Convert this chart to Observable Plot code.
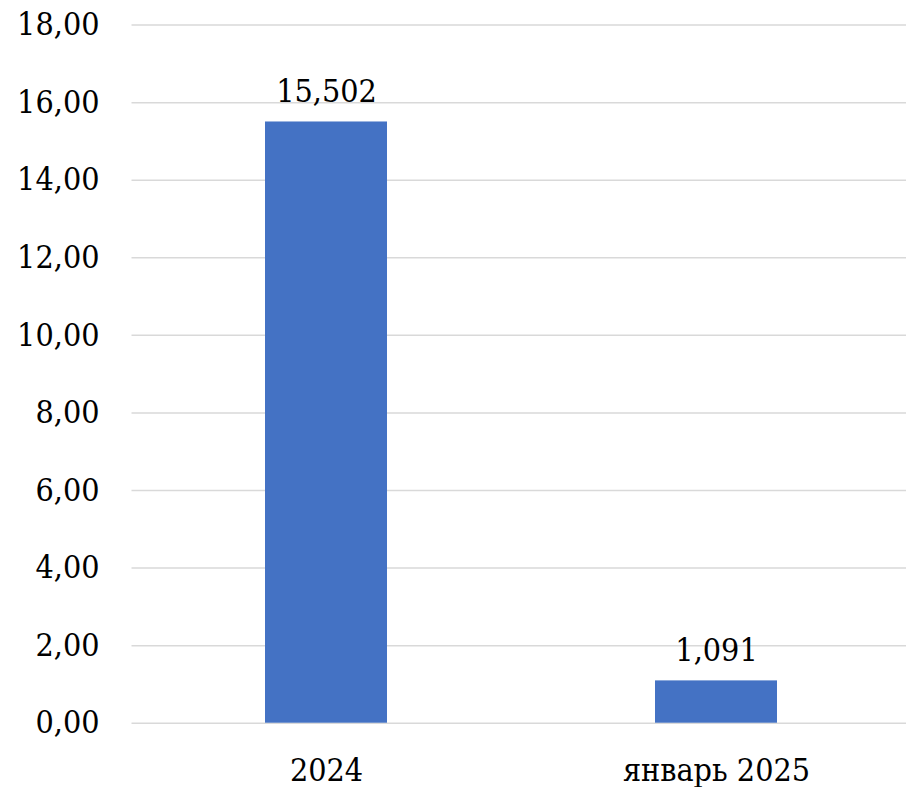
<!DOCTYPE html>
<html>
<head>
<meta charset="utf-8">
<script src="https://cdn.jsdelivr.net/npm/d3@7"></script>
<script src="https://cdn.jsdelivr.net/npm/@observablehq/plot@0.6"></script>
<style>
  html, body { margin: 0; padding: 0; background: #fff; overflow: hidden; }
  #chart svg { display: block; }
</style>
</head>
<body>
<div id="chart"></div>
<script>
const categories = ["2024", "январь 2025"];
const values = [15.502, 1.091];
const valueLabels = ["15,502", "1,091"];
const yTicks = [0, 2, 4, 6, 8, 10, 12, 14, 16, 18];

const data = categories.map((c, i) => ({category: c, value: values[i], label: valueLabels[i]}));
const fmt = d => d.toFixed(2).replace(".", ",");
const serif = "'DejaVu Serif Condensed', 'DejaVu Serif', serif";
const fs = 32;

const chart = Plot.plot({
  width: 906,
  height: 787,
  marginLeft: 131.5,
  marginRight: 0,
  marginTop: 24.6,
  marginBottom: 64.3,
  style: {fontFamily: serif, fontSize: fs + "px", color: "#000", background: "#fff", overflow: "visible"},
  x: {domain: categories, range: [130.75, 911.75], paddingInner: 0.6876, paddingOuter: 0.3438, label: null},
  y: {domain: [0, 18], label: null},
  marks: [
    Plot.ruleY(yTicks, {stroke: "#d9d9d9", strokeWidth: 1.5}),
    Plot.barY(data, {x: "category", y: "value", fill: "#4472C4"}),
    Plot.text(data, {x: "category", y: "value", text: "label", lineAnchor: "bottom", dy: -19.5, fill: "#000", fontSize: fs, fontFamily: serif}),
    Plot.axisY({ticks: yTicks, tickFormat: fmt, tickSize: 0, tickPadding: 32.5, fontSize: fs, fontFamily: serif, label: null}),
    Plot.axisX({tickSize: 0, tickPadding: 34.6, fontSize: fs, fontFamily: serif, label: null})
  ]
});
document.getElementById("chart").appendChild(chart);
</script>
</body>
</html>
